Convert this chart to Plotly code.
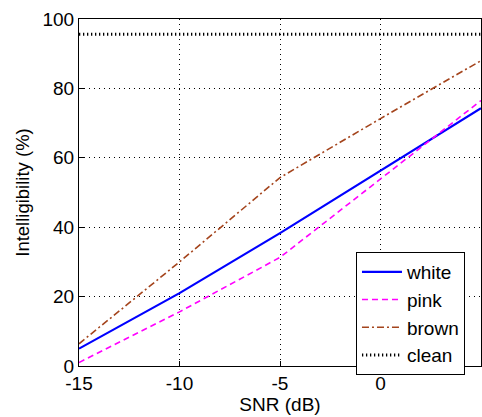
import plotly.graph_objects as go

snr = [-15, -10, -5, 0, 5]
white = [5.0, 21.0, 38.3, 56.3, 74.3]
pink = [1.0, 15.6, 31.3, 53.8, 76.5]
brown = [6.4, 30.0, 54.3, 71.3, 88.0]
clean_x = [-15, 5]
clean = [95.6, 95.6]
x_ticks = [-15, -10, -5, 0, 5]
x_ticktext = ["-15", "-10", "-5", "0", "5"]
y_ticks = [0, 20, 40, 60, 80, 100]

FONT = "Liberation Sans, Arial, sans-serif"

fig = go.Figure()
fig.add_trace(go.Scatter(x=snr, y=white, name="white", mode="lines",
                         line=dict(color="#0000ff", width=2.2)))
fig.add_trace(go.Scatter(x=snr, y=pink, name="pink", mode="lines",
                         line=dict(color="#ff00ff", width=1.6, dash="6px,4px")))
fig.add_trace(go.Scatter(x=snr, y=brown, name="brown", mode="lines",
                         line=dict(color="#a4441c", width=1.6, dash="7px,3px,2px,3px")))
fig.add_trace(go.Scatter(x=clean_x, y=clean, name="clean", mode="lines",
                         line=dict(color="#000000", width=3, dash="1.3px,2.7px")))

axis_common = dict(
    showgrid=True, gridcolor="#000000", gridwidth=1, griddash="1px,4px",
    showline=True, linecolor="#000000", linewidth=1, mirror=True,
    ticks="inside", ticklen=5, tickcolor="#000000",
    zeroline=False, automargin=False,
    tickfont=dict(family=FONT, size=19, color="#000000"),
)

fig.update_layout(
    width=482, height=417,
    margin=dict(l=79, r=1, t=19, b=51),
    paper_bgcolor="white", plot_bgcolor="white",
    font=dict(family=FONT, size=19, color="#000000"),
    xaxis=dict(range=[-15, 5], tickvals=x_ticks, ticktext=x_ticktext,
               title=dict(text="SNR (dB)", font=dict(family=FONT, size=19), standoff=3),
               **axis_common),
    yaxis=dict(range=[0, 100], tickvals=y_ticks,
               title=dict(text="Intelligibility (%)", font=dict(family=FONT, size=18.5), standoff=8),
               **axis_common),
    legend=dict(x=0.689, y=0.3285, xanchor="left", yanchor="top",
                bgcolor="white", bordercolor="#000000", borderwidth=1,
                font=dict(family=FONT, size=19), tracegroupgap=0,
                itemwidth=40),
    showlegend=True,
)

fig.write_html(
    "out.html",
    config={"displayModeBar": False},
    post_script="document.body.style.margin='0';document.body.style.overflow='hidden';",
)
